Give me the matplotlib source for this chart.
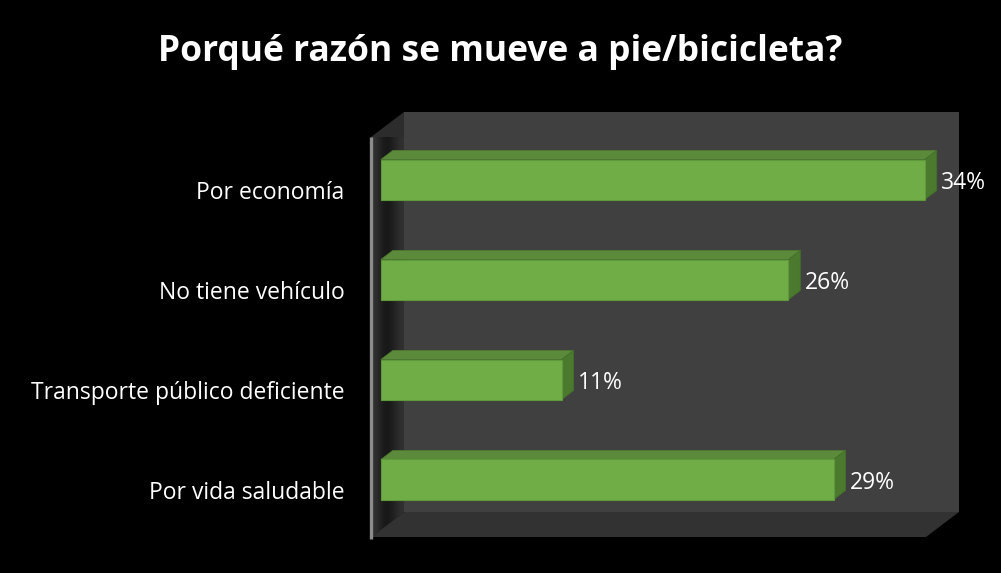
import numpy as np
import matplotlib.pyplot as plt
from matplotlib.patches import Polygon
from matplotlib.transforms import ScaledTranslation

plt.rcParams['font.family'] = ['Open Sans', 'DejaVu Sans']

categorias = ["Por economía", "No tiene vehículo", "Transporte público deficiente", "Por vida saludable"]
valores = [0.343, 0.257, 0.114, 0.2855]
titulo = "Porqué razón se mueve a pie/bicicleta?"

W, H = 1001, 573
fig = plt.figure(figsize=(W / 100, H / 100), dpi=100, facecolor='black')
ax = fig.add_axes([371 / W, 36 / H, 555 / W, 400 / H])
ax.set_facecolor('none')
xmax = 0.35
n = len(categorias)

# profundidad de la caja (pixeles -> unidades de datos)
dx = 33 * xmax / 555
dy = -25 * n / 400

def poly(pts, color, z, ec='none', lw=0):
    ax.add_patch(Polygon(pts, closed=True, facecolor=color, edgecolor=ec,
                         linewidth=lw, zorder=z, clip_on=False))

y0, y1 = -0.5, n - 0.5
# pared del fondo
poly([(dx, y0 + dy), (xmax + dx, y0 + dy), (xmax + dx, y1 + dy), (dx, y1 + dy)], '#404040', 1)
# piso
poly([(0, y1), (xmax, y1), (xmax + dx, y1 + dy), (dx, y1 + dy)], '#323232', 1)
# pared izquierda con sombra
izq = Polygon([(0, y0), (dx, y0 + dy), (dx, y1 + dy), (0, y1)], closed=True,
              facecolor='#2c2c2c', edgecolor='none', zorder=1, clip_on=False)
ax.add_patch(izq)
grad = np.array([[0.20, 0.15, 0.09, 0.10, 0.15, 0.19]])
im = ax.imshow(grad, cmap='gray', vmin=0, vmax=1, aspect='auto',
               extent=(0, dx, y1, y0 + dy), zorder=1.5, interpolation='bicubic')
im.set_clip_path(izq)
ax.set_xlim(0, xmax)
ax.set_ylim(n - 0.5, -0.5)

ax.plot([0, 0], [y0, y1 + 0.02], color='#8c8c8c', lw=2.4, zorder=3,
        solid_capstyle='butt', clip_on=False)

# barras
f0, f1 = 0.30, 0.66
bx, by = (f1 - f0) * dx, (f1 - f0) * dy
alto = 0.4
for i, v in enumerate(valores):
    xa = f0 * dx
    xb = v + f0 * dx
    yt = i - alto / 2 + f0 * dy
    yb = i + alto / 2 + f0 * dy
    poly([(xa, yt), (xb, yt), (xb + bx, yt + by), (xa + bx, yt + by)], '#5a8a3a', 4, '#4d7a31', 0.6)
    poly([(xb, yt), (xb, yb), (xb + bx, yb + by), (xb + bx, yt + by)], '#4b7a2f', 4, '#44702a', 0.6)
    poly([(xa, yt), (xb, yt), (xb, yb), (xa, yb)], '#70ad47', 5, '#5f9a3a', 0.8)
    ax.annotate(f"{v:.0%}", xy=(xb + bx, i + f0 * dy), xytext=(3, -2.5),
                textcoords='offset points', va='center', ha='left',
                color='white', fontsize=16.5, zorder=6, annotation_clip=False)

ax.set_yticks(range(n), categorias)
ax.tick_params(axis='y', length=0, pad=19, colors='white', labelsize=16.5)
bajar = ScaledTranslation(0, -3 / 100, fig.dpi_scale_trans)
for lbl in ax.get_yticklabels():
    lbl.set_transform(lbl.get_transform() + bajar)
ax.set_xticks([])
for s in ax.spines.values():
    s.set_visible(False)

fig.text(0.5, 1 - 52 / H, titulo, ha='center', va='center', color='white',
         fontsize=25.5, fontweight='bold')

fig.savefig('out.png', dpi=100, facecolor='black')
